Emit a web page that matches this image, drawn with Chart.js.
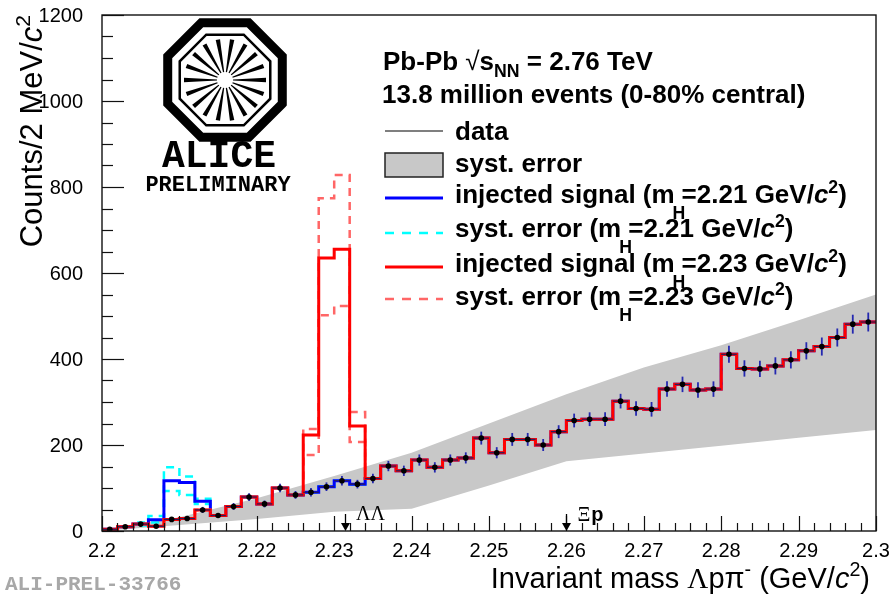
<!DOCTYPE html>
<html>
<head>
<meta charset="utf-8">
<title>Lambda p pi- invariant mass</title>
<script src="https://cdn.jsdelivr.net/npm/chart.js@4.4.1/dist/chart.umd.min.js"></script>
<style>
html, body { margin: 0; padding: 0; background: #fff; }
#wrap { width: 890px; height: 594px; }
</style>
</head>
<body>
<div id="wrap"><canvas id="massChart" width="890" height="594"></canvas></div>
<script>
// Λpπ- invariant mass, 2 MeV/c^2 bins between 2.200 and 2.300 GeV/c^2
const binLow = 2.2;
const binWidth = 0.002;
const xMin = 2.2, xMax = 2.3;
const yMin = 0, yMax = 1200;

const counts = [4, 10, 16, 11, 27, 29, 49, 36, 57, 79,
                63, 100, 84, 90, 103, 117, 109, 122, 151, 140,
                165, 148, 165, 170, 216, 182, 213, 213, 200, 231,
                257, 260, 260, 302, 285, 283, 330, 341, 328, 330,
                411, 378, 377, 384, 398, 419, 429, 450, 481, 486];
const statErr = [2, 3, 4, 3, 5, 5, 7, 6, 8, 9,
                 8, 10, 9, 10, 10, 11, 10, 11, 12, 12,
                 13, 12, 13, 13, 15, 13, 15, 15, 14, 15,
                 16, 16, 16, 17, 17, 17, 18, 18, 18, 18,
                 20, 19, 19, 20, 20, 20, 21, 21, 22, 22];

// injected signals: only the bins that differ from the data are listed
const sig221Bins = [3, 4, 5, 6];
const sig221 = [26, 117, 113, 69];
const sig221SystBins = [2, 3, 4, 5, 6];
const sig221Up = [20, 35, 148, 127, 75];
const sig221Lo = [13, 20, 93, 84, 63];

const sig223Bins = [13, 14, 15, 16];
const sig223 = [223, 635, 655, 244];
const sig223Up = [237, 774, 828, 277];
const sig223Lo = [177, 502, 523, 207];

// systematic band on the data
const bandX = [2.2, 2.21, 2.22, 2.23, 2.24, 2.25, 2.26, 2.27, 2.28, 2.29, 2.3];
const bandUp = [3, 32, 76, 128, 182, 250, 318, 380, 432, 490, 550];
const bandLo = [0, 14, 28, 45, 52, 106, 162, 180, 198, 217, 235];

const xTicks = ['2.2', '2.21', '2.22', '2.23', '2.24', '2.25', '2.26', '2.27', '2.28', '2.29', '2.3'];
const yTicks = [0, 200, 400, 600, 800, 1000, 1200];

// thresholds marked on the axis
const thresholds = [
    { x: 2.2314, label: 'ΛΛ' },
    { x: 2.2600, label: 'Ξp' }
];

const SANS = '"Liberation Sans", Arial, Helvetica, sans-serif';
const SERIF = '"Liberation Serif", "DejaVu Serif", serif';
const MONO = '"Liberation Mono", "DejaVu Sans Mono", monospace';

function withOverrides(base, bins, vals) {
    const out = base.slice();
    bins.forEach((b, i) => { out[b] = vals[i]; });
    return out;
}

// left bin edges plus the closing edge, for a stepped line
function histPoints(vals) {
    const pts = vals.map((v, i) => ({ x: binLow + binWidth * i, y: v }));
    pts.push({ x: binLow + binWidth * vals.length, y: vals[vals.length - 1] });
    return pts;
}

function histLine(label, vals, color, width, dash, order) {
    return {
        label: label,
        data: histPoints(vals),
        borderColor: color,
        borderWidth: width,
        borderDash: dash || [],
        stepped: 'before',
        pointRadius: 0,
        fill: false,
        order: order
    };
}

function font(size, weight, style, family) {
    return (style || 'normal') + ' ' + (weight || 'normal') + ' ' + size + 'px ' + (family || SANS);
}

// text with sub/superscripts and italics
function drawRich(ctx, x, y, parts, size, weight, align) {
    const items = parts.map(p => {
        const s = (p.sub || p.sup) ? size * 0.68 : size;
        const f = font(s, p.w || weight, p.it ? 'italic' : 'normal', p.fam);
        ctx.font = f;
        const mw = ctx.measureText(p.t).width;
        return { p: p, f: f, adv: p.adv !== undefined ? mw * p.adv : mw };
    });
    const total = items.reduce((a, it) => a + it.adv, 0);
    let cx = align === 'right' ? x - total : x;
    items.forEach(it => {
        ctx.font = it.f;
        let dy = 0;
        if (it.p.sub) dy = size * (it.p.off !== undefined ? it.p.off : 0.3);
        if (it.p.sup) dy = -size * 0.4;
        ctx.fillText(it.p.t, cx + (it.p.dx || 0), y + dy);
        cx += it.adv;
    });
}

const counts221 = withOverrides(counts, sig221Bins, sig221);
const counts221Up = withOverrides(counts, sig221SystBins, sig221Up);
const counts221Lo = withOverrides(counts, sig221SystBins, sig221Lo);
const counts223 = withOverrides(counts, sig223Bins, sig223);
const counts223Up = withOverrides(counts, sig223Bins, sig223Up);
const counts223Lo = withOverrides(counts, sig223Bins, sig223Lo);

// data points with bin-width bars and statistical errors
const errorBars = {
    id: 'errorBars',
    beforeDatasetDraw(chart, args) {
        const ds = chart.data.datasets[args.index];
        if (ds.label !== 'data') return;
        const ctx = chart.ctx;
        const xs = chart.scales.x, ys = chart.scales.y;
        ctx.save();
        counts.forEach((c, i) => {
            const x0 = xs.getPixelForValue(binLow + binWidth * i);
            const x1 = xs.getPixelForValue(binLow + binWidth * (i + 1));
            const xc = (x0 + x1) / 2;
            const yc = ys.getPixelForValue(c);
            ctx.strokeStyle = '#2b1d5c';
            ctx.lineWidth = 1.3;
            ctx.beginPath();
            ctx.moveTo(x0, yc);
            ctx.lineTo(x1, yc);
            ctx.stroke();
            ctx.strokeStyle = '#2428b0';
            ctx.lineWidth = 1.8;
            ctx.beginPath();
            ctx.moveTo(xc, ys.getPixelForValue(c - statErr[i]));
            ctx.lineTo(xc, ys.getPixelForValue(c + statErr[i]));
            ctx.stroke();
        });
        ctx.restore();
    }
};

// frame, inward ticks, tick labels, titles, legend and labels
const decorations = {
    id: 'decorations',
    afterDatasetsDraw(chart) {
        const ctx = chart.ctx;
        const xs = chart.scales.x, ys = chart.scales.y;
        const a = chart.chartArea;
        ctx.save();

        ctx.strokeStyle = '#111';
        ctx.lineWidth = 1.4;
        ctx.strokeRect(a.left, a.top, a.right - a.left, a.bottom - a.top);

        // x ticks: majors every 0.01, minors every 0.002
        ctx.lineWidth = 1.2;
        for (let k = 0; k <= 50; k++) {
            const px = Math.round(xs.getPixelForValue(binLow + binWidth * k)) + 0.5;
            const len = k % 5 === 0 ? 15 : 8;
            ctx.beginPath();
            ctx.moveTo(px, a.bottom);
            ctx.lineTo(px, a.bottom - len);
            ctx.stroke();
        }
        // y ticks: majors every 200, minors every 50
        for (let v = yMin; v <= yMax; v += 50) {
            const py = Math.round(ys.getPixelForValue(v)) + 0.5;
            const len = v % 200 === 0 ? 22 : 11;
            ctx.beginPath();
            ctx.moveTo(a.left, py);
            ctx.lineTo(a.left + len, py);
            ctx.stroke();
        }

        ctx.fillStyle = '#000';
        ctx.font = font(20);
        ctx.textAlign = 'center';
        ctx.textBaseline = 'alphabetic';
        xTicks.forEach(t => ctx.fillText(t, xs.getPixelForValue(parseFloat(t)), 557));
        ctx.textAlign = 'right';
        ctx.textBaseline = 'middle';
        yTicks.forEach(v => ctx.fillText(String(v), a.left - 19, ys.getPixelForValue(v) + 1));

        ctx.textAlign = 'left';
        ctx.textBaseline = 'alphabetic';

        // axis titles
        drawRich(ctx, 870, 588, [
            { t: 'Invariant mass ' }, { t: 'Λ', fam: SERIF }, { t: 'pπ' },
            { t: '-', sup: true }, { t: ' (GeV/' }, { t: 'c', it: true },
            { t: '2', sup: true }, { t: ')' }
        ], 29, 'normal', 'right');
        ctx.save();
        ctx.translate(42, 15);
        ctx.rotate(-Math.PI / 2);
        drawRich(ctx, 0, 0, [
            { t: 'Counts/2 MeV/' }, { t: 'c', it: true }, { t: '2', sup: true }
        ], 31, 'normal', 'right');
        ctx.restore();

        // threshold arrows
        thresholds.forEach(th => {
            const px = Math.round(xs.getPixelForValue(th.x)) + 0.5;
            ctx.strokeStyle = '#000';
            ctx.lineWidth = 1.3;
            ctx.beginPath();
            ctx.moveTo(px, a.bottom - 17);
            ctx.lineTo(px, a.bottom - 6);
            ctx.stroke();
            ctx.fillStyle = '#000';
            ctx.beginPath();
            ctx.moveTo(px - 4.5, a.bottom - 8);
            ctx.lineTo(px + 4.5, a.bottom - 8);
            ctx.lineTo(px, a.bottom);
            ctx.closePath();
            ctx.fill();
        });
        ctx.fillStyle = '#000';
        const llx = xs.getPixelForValue(thresholds[0].x) + 11;
        ctx.font = font(20, 'normal', 'normal', SERIF);
        ctx.fillText(thresholds[0].label, llx, 520);
        const xpx = xs.getPixelForValue(thresholds[1].x) + 11;
        ctx.font = font(20, 'normal', 'normal', SERIF);
        ctx.fillText('Ξ', xpx, 521);
        const xiw = ctx.measureText('Ξ').width;
        ctx.font = font(20, 'bold');
        ctx.fillText('p', xpx + xiw + 1, 521);

        // header and legend
        const lx0 = 385, lx1 = 443, tx = 455;
        drawRich(ctx, 383, 70, [
            { t: 'Pb-Pb ' }, { t: '√', w: 'normal' }, { t: 's' },
            { t: 'NN', sub: true, off: 0.25 }, { t: ' = 2.76 TeV' }
        ], 26, 'bold');
        drawRich(ctx, 382, 103, [{ t: '13.8 million events (0-80% central)' }], 26, 'bold');

        const entries = [
            { y: 131, base: 140, kind: 'line', color: '#000', w: 1.2, parts: [{ t: 'data' }] },
            { y: 165, base: 172, kind: 'box', parts: [{ t: 'syst. error' }] },
            { y: 198, base: 203, kind: 'line', color: '#0000ff', w: 3, mH: '2.21', pre: 'injected signal (m' },
            { y: 233, base: 237, kind: 'line', color: '#00ffff', w: 2.5, dash: [9, 8], mH: '2.21', pre: 'syst. error (m' },
            { y: 267, base: 272, kind: 'line', color: '#ff0000', w: 3, mH: '2.23', pre: 'injected signal (m' },
            { y: 299, base: 305, kind: 'line', color: '#ff6666', w: 2.5, dash: [9, 8], mH: '2.23', pre: 'syst. error (m' }
        ];
        entries.forEach(e => {
            if (e.kind === 'box') {
                ctx.fillStyle = '#c8c8c8';
                ctx.fillRect(lx0, e.y - 12, lx1 - lx0, 24);
                ctx.strokeStyle = '#222';
                ctx.lineWidth = 1.5;
                ctx.strokeRect(lx0, e.y - 12, lx1 - lx0, 24);
            } else {
                ctx.strokeStyle = e.color;
                ctx.lineWidth = e.w;
                ctx.setLineDash(e.dash || []);
                ctx.beginPath();
                ctx.moveTo(lx0, e.y);
                ctx.lineTo(lx1, e.y);
                ctx.stroke();
                ctx.setLineDash([]);
            }
            ctx.fillStyle = '#000';
            const parts = e.parts || [
                { t: e.pre }, { t: 'H', sub: true, off: 0.6, dx: -2, adv: 0.55 },
                { t: '=' + e.mH + ' GeV/' }, { t: 'c', it: true },
                { t: '2', sup: true }, { t: ')' }
            ];
            drawRich(ctx, tx, e.base, parts, 26, 'bold');
        });

        // experiment logo
        const cx = 225, cy = 80, R = 62;
        ctx.strokeStyle = '#000';
        ctx.lineWidth = 9;
        ctx.lineJoin = 'miter';
        ctx.beginPath();
        for (let k = 0; k < 8; k++) {
            const ang = Math.PI / 8 + k * Math.PI / 4;
            const px = cx + R * Math.cos(ang), py = cy + R * Math.sin(ang);
            if (k === 0) ctx.moveTo(px, py); else ctx.lineTo(px, py);
        }
        ctx.closePath();
        ctx.stroke();
        ctx.lineWidth = 2.5;
        ctx.beginPath();
        for (let k = 0; k < 8; k++) {
            const ang = Math.PI / 8 + k * Math.PI / 4;
            const px = cx + 49 * Math.cos(ang), py = cy + 49 * Math.sin(ang);
            if (k === 0) ctx.moveTo(px, py); else ctx.lineTo(px, py);
        }
        ctx.closePath();
        ctx.stroke();
        ctx.fillStyle = '#000';
        for (let k = 0; k < 18; k++) {
            const ang = k * Math.PI * 2 / 18;
            const ca = Math.cos(ang), sa = Math.sin(ang);
            const pa = Math.cos(ang + Math.PI / 2), pb = Math.sin(ang + Math.PI / 2);
            ctx.beginPath();
            ctx.moveTo(cx + 8 * ca + 0.6 * pa, cy + 8 * sa + 0.6 * pb);
            ctx.lineTo(cx + 41 * ca + 2.2 * pa, cy + 41 * sa + 2.2 * pb);
            ctx.lineTo(cx + 41 * ca - 2.2 * pa, cy + 41 * sa - 2.2 * pb);
            ctx.lineTo(cx + 8 * ca - 0.6 * pa, cy + 8 * sa - 0.6 * pb);
            ctx.closePath();
            ctx.fill();
        }
        ctx.textAlign = 'center';
        ctx.font = font(38, 'bold', 'normal', MONO);
        ctx.fillText('ALICE', 219, 167);
        ctx.font = font(22, 'bold', 'normal', MONO);
        ctx.fillText('PRELIMINARY', 218, 191);

        ctx.textAlign = 'left';
        ctx.fillStyle = '#a8a8a8';
        ctx.font = font(21, 'bold', 'normal', MONO);
        ctx.fillText('ALI-PREL-33766', 5, 590);

        ctx.restore();
    }
};

const datasets = [
    {
        label: 'band up',
        data: bandX.map((x, i) => ({ x: x, y: bandUp[i] })),
        borderWidth: 0,
        pointRadius: 0,
        backgroundColor: '#c8c8c8',
        fill: '+1',
        order: 10
    },
    {
        label: 'band low',
        data: bandX.map((x, i) => ({ x: x, y: bandLo[i] })),
        borderWidth: 0,
        pointRadius: 0,
        fill: false,
        order: 10
    },
    histLine('syst 2.21 up', counts221Up, '#00ffff', 2.5, [8, 6], 9),
    histLine('syst 2.21 low', counts221Lo, '#00ffff', 2.5, [8, 6], 9),
    histLine('signal 2.21', counts221, '#0000ff', 3, null, 8),
    histLine('syst 2.23 up', counts223Up, '#ff6666', 2.5, [8, 6], 7),
    histLine('syst 2.23 low', counts223Lo, '#ff6666', 2.5, [8, 6], 7),
    histLine('signal 2.23', counts223, '#ff0000', 3, null, 6),
    {
        label: 'data',
        data: counts.map((c, i) => ({ x: binLow + binWidth * (i + 0.5), y: c })),
        showLine: false,
        pointRadius: 2.8,
        pointBorderWidth: 0,
        pointBackgroundColor: '#000',
        order: 1
    }
];

new Chart(document.getElementById('massChart'), {
    type: 'line',
    data: { datasets: datasets },
    options: {
        responsive: false,
        animation: false,
        devicePixelRatio: 1,
        layout: { padding: { left: 102, right: 14, top: 15, bottom: 63 } },
        scales: {
            x: { type: 'linear', min: xMin, max: xMax, display: false },
            y: { type: 'linear', min: yMin, max: yMax, display: false }
        },
        plugins: {
            legend: { display: false },
            tooltip: { enabled: false }
        }
    },
    plugins: [errorBars, decorations]
});
</script>
</body>
</html>
